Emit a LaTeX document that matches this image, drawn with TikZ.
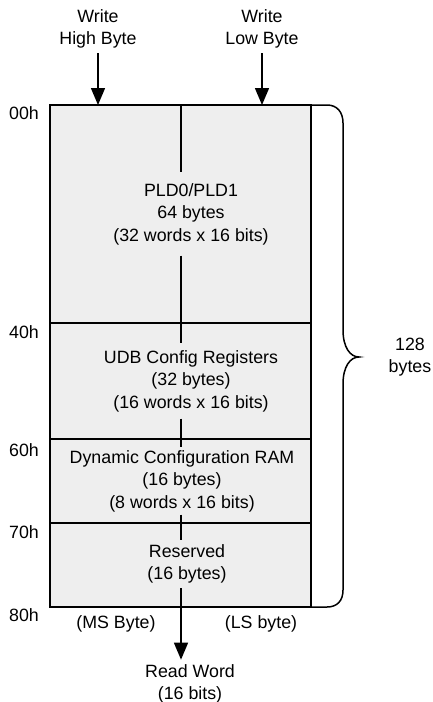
\documentclass[tikz,border=0pt]{standalone}
\usepackage{fontspec}
\setmainfont{Liberation Sans}
\usetikzlibrary{arrows.meta, positioning, calc}
\definecolor{cellgray}{RGB}{238,238,238}

\begin{document}
\begin{tikzpicture}[x=0.5pt, y=-0.5pt, line width=0.75pt,
  txt/.style={font=\fontsize{8.9}{11.3}\selectfont, align=center, inner sep=2pt},
  arr/.style={-{Triangle[length=8.5pt, width=7pt]}}]
  \useasboundingbox (0,0) rectangle (433,702);
  % memory block
  \draw[fill=cellgray] (50,105) rectangle (311,607);
  \foreach \y in {323, 439, 523} { \draw (50,\y) -- (311,\y); }
  \foreach \a/\y in {00h/113, 40h/332, 60h/450, 70h/532, 80h/615} { \node[txt] (addr\a) at (24,\y) {\a}; }
  % regions
  \node[txt, inner ysep=5pt] (pld) at (191,214) {PLD0/PLD1\\64 bytes\\(32 words x 16 bits)};
  \node[txt, inner ysep=3pt] (udb) at (191,381) {UDB Config Registers\\(32 bytes)\\(16 words x 16 bits)};
  \node[txt, inner ysep=1pt] (dcfg) at (182,481) {Dynamic Configuration RAM\\(16 bytes)\\(8 words x 16 bits)};
  \node[txt, inner ysep=2pt] (resv) at (187,564) {Reserved\\(16 bytes)};
  % write and read ports
  \node[txt] (whigh) at (98,29) {Write\\High Byte};
  \node[txt] (wlow) at (262,29) {Write\\Low Byte};
  \coordinate (whighend) at (98,105);
  \coordinate (wlowend) at (262,105);
  \draw[arr] (whigh) -- (whighend);
  \draw[arr] (wlow) -- (wlowend);
  \node[txt] (msb) at (116,624) {(MS Byte)};
  \node[txt] (lsb) at (261,624) {(LS byte)};
  \node[txt] (rword) at (190,684) {Read Word\\(16 bits)};
  % byte split line
  \coordinate (ctop) at (181,105);
  \draw (ctop) -- (ctop |- pld.north);
  \draw (ctop |- pld.south) -- (ctop |- udb.north);
  \draw (ctop |- udb.south) -- (ctop |- dcfg.north);
  \draw (ctop |- dcfg.south) -- (ctop |- resv.north);
  \draw[arr] (ctop |- resv.south) -- (ctop |- rword.north);
  % size brace
  \draw (311,105) -- (327,105) .. controls (337,105) and (343,112) .. (343,123) -- (343,330)
    .. controls (343,347) and (350,357) .. (359,357) .. controls (350,357) and (343,367) .. (343,384)
    -- (343,590) .. controls (343,601) and (337,607) .. (327,607) -- (311,607);
  \node[txt] (total) at (410,357) {128\\bytes};
\end{tikzpicture}
\end{document}
